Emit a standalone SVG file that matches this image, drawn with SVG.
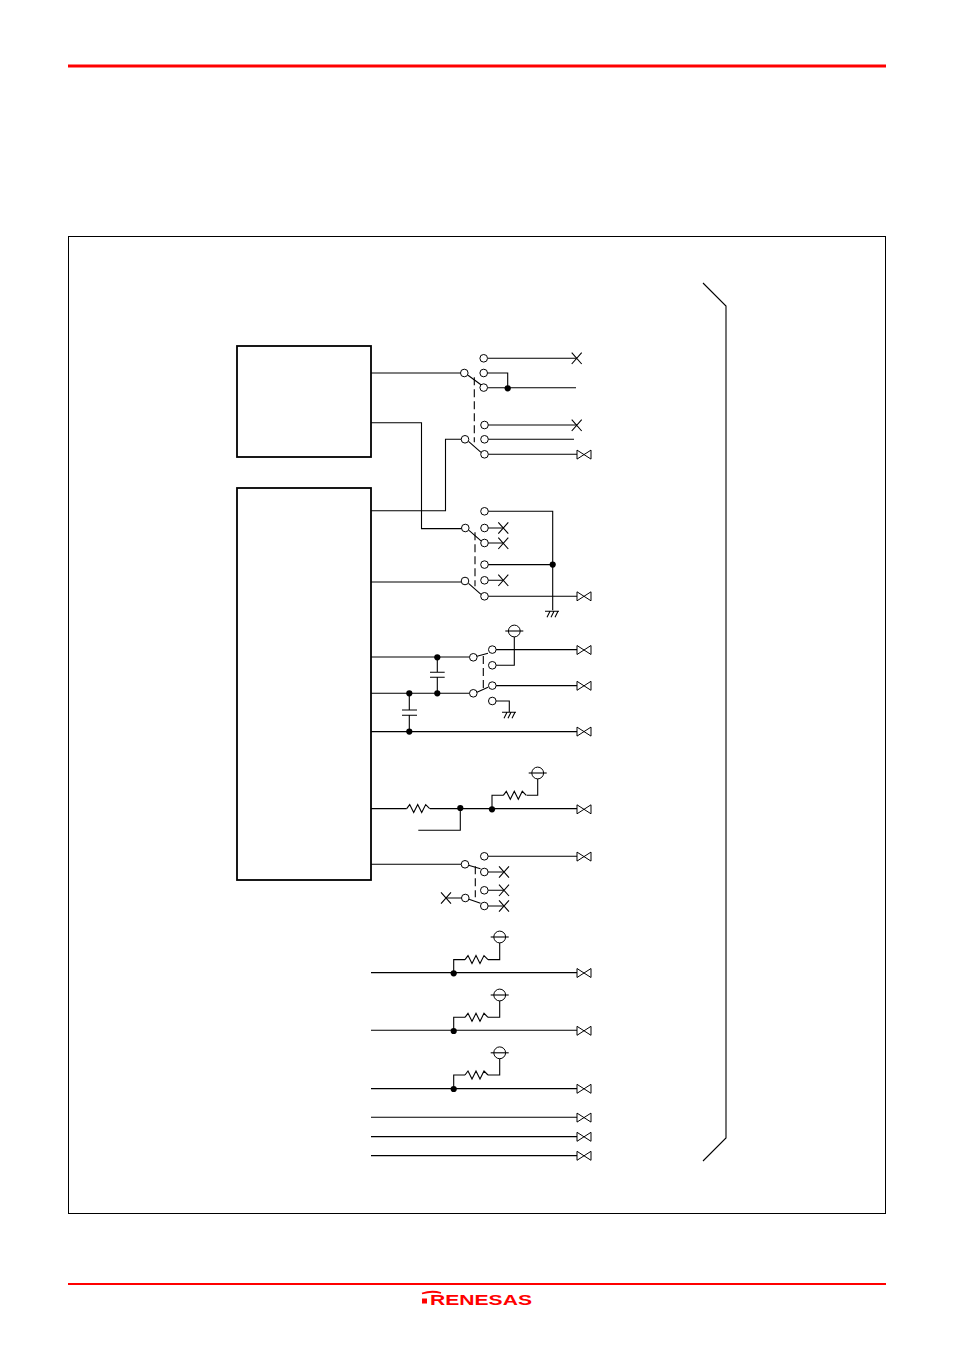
<svg xmlns="http://www.w3.org/2000/svg" width="954" height="1350" viewBox="0 0 954 1350">
<style>
.w{fill:none;stroke:#000;stroke-width:1.1}
.d{fill:none;stroke:#000;stroke-width:1.1;stroke-dasharray:8 4}
.b{fill:none;stroke:#000;stroke-width:1.8}
.o{fill:#fff;stroke:#000;stroke-width:1}
.k{fill:#000}
.r{fill:#ff0000}
</style>
<defs>
<circle id="c" r="3.8" class="o"/>
<circle id="dot" r="3.1" class="k"/>
<path id="x" d="M-5-5.700L5 5.700M-5 5.700L5-5.700" class="w"/>
<path id="bt" d="M0-4.500L14 4.500V-4.500L0 4.500Z" class="o"/>
<path id="res" d="M0 0L3-4L7 4L11-4L15 4L19-4L23 0" class="w"/>
<g id="pw"><circle r="5.900" fill="#fff" stroke="#000" stroke-width="1"/><path d="M-9 0H9" class="w"/></g>
<g id="gnd"><path d="M-7 0H7M-5 6L-2 0M-1 6L2 0M3 6L6 0" class="w"/></g>
</defs>
<rect width="954" height="1350" fill="#fff"/>
<g id="page">
<rect x="68" y="64.500" width="818" height="3" class="r"/>
<rect x="68" y="1283" width="818" height="2" class="r"/>
<rect x="68.500" y="236.500" width="817" height="977" fill="none" stroke="#000" stroke-width="1"/>
<path d="M703 283L726 306V1138L703 1161" class="w"/>
</g>
<g id="logo">
<rect x="422" y="1298.500" width="5" height="5" class="r"/>
<path d="M422 1293.500C428 1291.500 436 1291.500 441 1293" fill="none" stroke="#ff0000" stroke-width="1.800"/>
<text x="430" y="1304.500" font-family="'Liberation Sans',sans-serif" font-weight="700" font-size="15.500" fill="#ff0000" textLength="102" lengthAdjust="spacingAndGlyphs">RENESAS</text>
</g>
<g id="block-upper"><rect x="237" y="346" width="134" height="111" class="b"/></g>
<g id="block-lower"><rect x="237" y="488" width="134" height="392" class="b"/></g>
<g transform="translate(0 .3)">
<g id="connectors">
<path class="w" d="M371 372.700H460.700M468 375L483 386M488 358H577M487.500 372.700H507.700V388M487.500 387.500H576"/>
<path class="d" d="M474.300 377V442"/>
<path class="w" d="M488 424.700H577M488 439H574M488 454H577M468.500 441L481 452M371 510.500H445.500V439H461.500"/>
<path class="w" d="M371 422.500H421.500V528.300H461.700M469 530L481 540.500M488 511H552.700V610M488 527.700H503M488 542.700H503M488 564.300H552.700M488 580H503M488 596H577M371 581.700H461.500M468.500 583L481 594"/>
<path class="d" d="M475 532V586"/>
<path class="w" d="M371 656.700H469.700M477 656L488 653M496 649.300H577M496 665H514.300V636.400M371 693H469.700M477 692L488 687M496 685.300H577M496 700.700H509.300V711.700M371 731.300H577"/>
<path class="d" d="M483.300 655.700V688"/>
<path class="w" d="M437.300 657V672M437.300 677V693M430 672H444.700M430 677H444.700M409.300 693V709.700M409.300 715V731.300M402 709.700H417M402 715H417"/>
<path class="w" d="M371 808.300H406.700M430 808.300H577M460.300 808V830H418.300M492 809V795H503.300M526.700 795H537.700V778.400"/>
<use href="#res" x="406.700" y="808.300"/>
<use href="#res" x="503.300" y="795"/>
<path class="w" d="M371 864H461.400M468.500 865L480.500 868.500M488 856H577M488 871.700H504M488 890H504M488 905.700H504M446 897.700H461.700M469 899L480.500 903"/>
<path class="d" d="M475.300 866V897"/>
<path class="w" d="M371 972.300H577M453.700 972V959.300H465M488 959.300H499.700V942.400M371 1030H577M453.700 1030V1017H465M488 1017H499.700V1000M371 1088.300H577M453.700 1088V1074.700H465M488 1074.700H499.700V1058M371 1117H577M371 1136.300H577M371 1155.300H577"/>
<use href="#res" x="465" y="959.300"/>
<use href="#res" x="465" y="1017"/>
<use href="#res" x="465" y="1074.700"/>
</g>
<g id="contacts">
<use href="#c" x="464.300" y="372.700"/><use href="#c" x="483.700" y="358"/><use href="#c" x="483.700" y="372.700"/><use href="#c" x="483.700" y="387.300"/>
<use href="#c" x="465" y="439"/><use href="#c" x="484.500" y="424.700"/><use href="#c" x="484.500" y="439"/><use href="#c" x="484.500" y="454"/>
<use href="#c" x="465.300" y="527.700"/><use href="#c" x="484.500" y="511"/><use href="#c" x="484.500" y="527.700"/><use href="#c" x="484.500" y="542.700"/>
<use href="#c" x="465" y="580.700"/><use href="#c" x="484.500" y="564.300"/><use href="#c" x="484.500" y="580"/><use href="#c" x="484.500" y="596"/>
<use href="#c" x="473.300" y="657"/><use href="#c" x="492.300" y="649.300"/><use href="#c" x="492.300" y="665"/>
<use href="#c" x="473.300" y="693"/><use href="#c" x="492.300" y="685.300"/><use href="#c" x="492.300" y="700.700"/>
<use href="#c" x="465" y="864"/><use href="#c" x="484.300" y="856"/><use href="#c" x="484.300" y="871.700"/><use href="#c" x="484.300" y="890"/><use href="#c" x="484.300" y="905.700"/><use href="#c" x="465.300" y="897.700"/>
</g>
<g id="junctions">
<use href="#dot" x="507.700" y="388"/><use href="#dot" x="552.700" y="564.300"/>
<use href="#dot" x="437.300" y="657"/><use href="#dot" x="437.300" y="693"/><use href="#dot" x="409.300" y="693"/><use href="#dot" x="409.300" y="731.300"/>
<use href="#dot" x="460.300" y="807.700"/><use href="#dot" x="492" y="809"/>
<use href="#dot" x="453.700" y="973"/><use href="#dot" x="453.700" y="1030.700"/><use href="#dot" x="453.700" y="1088.700"/>
</g>
<g id="no-connects">
<use href="#x" x="576.700" y="358"/><use href="#x" x="576.700" y="425"/>
<use href="#x" x="503.300" y="527.700"/><use href="#x" x="503.300" y="543"/><use href="#x" x="503.300" y="580"/>
<use href="#x" x="504" y="871.700"/><use href="#x" x="504" y="890"/><use href="#x" x="504" y="905.700"/><use href="#x" x="446" y="897.700"/>
</g>
<g id="terminals">
<use href="#bt" x="577" y="454.300"/><use href="#bt" x="577" y="596"/><use href="#bt" x="577" y="649.700"/><use href="#bt" x="577" y="685.500"/><use href="#bt" x="577" y="731.300"/><use href="#bt" x="577" y="809"/><use href="#bt" x="577" y="856.300"/><use href="#bt" x="577" y="972.700"/><use href="#bt" x="577" y="1030.500"/><use href="#bt" x="577" y="1088.500"/><use href="#bt" x="577" y="1117.300"/><use href="#bt" x="577" y="1136.500"/><use href="#bt" x="577" y="1155.500"/>
</g>
<g id="supplies">
<use href="#pw" x="514.300" y="630.700"/><use href="#pw" x="537.700" y="772.700"/><use href="#pw" x="499.700" y="936.700"/><use href="#pw" x="499.700" y="994.700"/><use href="#pw" x="499.700" y="1052.500"/>
</g>
<g id="grounds">
<use href="#gnd" x="552" y="611"/><use href="#gnd" x="509" y="712"/>
</g>
</g>
</svg>
